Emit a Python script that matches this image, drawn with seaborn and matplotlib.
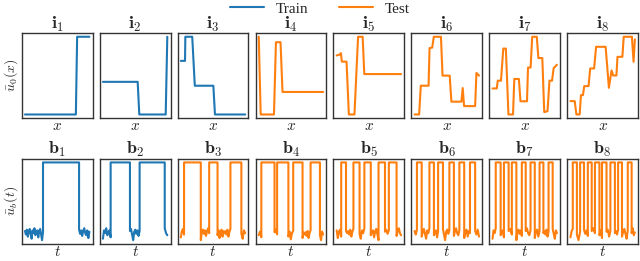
import numpy as np
import pandas as pd
import matplotlib
matplotlib.use("Agg")
import matplotlib.pyplot as plt
import seaborn as sns
from matplotlib.lines import Line2D

BLUE = "#1f77b4"
ORANGE = "#ff7f0e"

# ---- top row: initial conditions (piecewise vertices) ----
i1_x = [0.0, 0.79, 0.81, 1.0]
i1_y = [0.0, 0.0, 1.0, 1.0]
i2_x = [0.0, 0.54, 0.565, 0.975, 1.0]
i2_y = [0.42, 0.42, 0.0, 0.0, 1.0]
i3_x = [0.0, 0.065, 0.07, 0.177, 0.217, 0.505, 0.53, 1.0]
i3_y = [0.69, 0.69, 1.0, 1.0, 0.37, 0.37, 0.0, 0.0]
i4_x = [0.0, 0.03, 0.236, 0.267, 0.338, 0.369, 1.0]
i4_y = [1.0, 0.0, 0.0, 0.93, 0.93, 0.29, 0.29]
i5_x = [0.0, 0.05, 0.066, 0.08, 0.153, 0.189, 0.276, 0.332, 0.403, 0.429, 1.0]
i5_y = [0.76, 0.77, 0.79, 0.68, 0.68, 0.0, 0.0, 1.0, 1.0, 0.52, 0.52]
i6_x = [0.0, 0.07, 0.096, 0.217, 0.232, 0.273, 0.298, 0.409, 0.434, 0.545,
        0.571, 0.727, 0.747, 0.768, 0.94, 0.96, 1.0]
i6_y = [0.0, 0.0, 0.37, 0.37, 0.855, 0.86, 1.0, 1.0, 0.5, 0.5,
        0.165, 0.165, 0.34, 0.108, 0.108, 0.535, 0.5]
i7_x = [0.0, 0.066, 0.081, 0.131, 0.167, 0.207, 0.247, 0.318, 0.338, 0.409,
        0.434, 0.535, 0.551, 0.591, 0.616, 0.687, 0.712, 0.773, 0.803, 0.854,
        0.884, 0.924, 0.949, 1.0]
i7_y = [0.335, 0.335, 0.435, 0.435, 0.848, 0.848, 0.0, 0.0, 0.457, 0.457,
        0.17, 0.17, 0.604, 0.604, 1.0, 1.0, 0.726, 0.726, 0.03, 0.043,
        0.435, 0.435, 0.596, 0.64]
i8_x = [0.0, 0.066, 0.092, 0.143, 0.163, 0.194, 0.214, 0.281, 0.306, 0.367,
        0.398, 0.546, 0.597, 0.638, 0.663, 0.714, 0.730, 0.806, 0.827, 0.954,
        0.980, 1.0]
i8_y = [0.172, 0.172, 0.0, 0.0, 0.249, 0.249, 0.365, 0.365, 0.592, 0.592,
        0.871, 0.871, 0.343, 0.567, 0.502, 0.502, 0.742, 0.742, 1.0, 1.0,
        0.678, 0.966]

top_x = [i1_x, i2_x, i3_x, i4_x, i5_x, i6_x, i7_x, i8_x]
top_y = [i1_y, i2_y, i3_y, i4_y, i5_y, i6_y, i7_y, i8_y]

# ---- bottom row: boundary pulses (rise / fall times) ----
b_rises = [
    [0.28],
    [0.12, 0.57],
    [0.05, 0.44, 0.77],
    [0.04, 0.285, 0.535, 0.805],
    [0.07, 0.26, 0.43, 0.65, 0.81],
    [0.036, 0.23, 0.365, 0.54, 0.695, 0.86],
    [0.05, 0.177, 0.30, 0.455, 0.59, 0.73, 0.87],
    [0.036, 0.15, 0.27, 0.38, 0.49, 0.62, 0.74, 0.89],
]
b_falls = [
    [0.84],
    [0.42, 0.96],
    [0.31, 0.57, 0.94],
    [0.245, 0.46, 0.68, 0.95],
    [0.145, 0.355, 0.53, 0.75, 0.93],
    [0.11, 0.30, 0.44, 0.61, 0.77, 0.94],
    [0.126, 0.25, 0.37, 0.515, 0.656, 0.79, 0.934],
    [0.10, 0.21, 0.33, 0.45, 0.56, 0.69, 0.80, 0.95],
]
noise = [0.02, -0.03, 0.04, -0.06, 0.01, 0.05, -0.02, -0.09, 0.03, -0.01,
         0.06, -0.04, 0.00, 0.03, -0.07, 0.02, 0.05, -0.03, -0.11, 0.01,
         0.04, -0.02, 0.03, -0.05, 0.02, 0.06, -0.01, -0.04, 0.03, -0.08,
         0.01, 0.04, -0.06, 0.02, -0.01]

train_top = 3
train_bot = 2
top_titles = [r"$\mathbf{i}_{%d}$" % (k + 1) for k in range(8)]
bot_titles = [r"$\mathbf{b}_{%d}$" % (k + 1) for k in range(8)]
row_ylabels = [r"$\bar{u}_0(x)$", r"$\bar{u}_b(t)$"]


def pulse_path(rises, falls, offset):
    xs, ys = [], []
    k = offset
    starts = [0.0] + falls
    ends = rises + [1.0]
    for j, (a, b) in enumerate(zip(starts, ends)):
        n = max(2, int(round((b - a) * 70)))
        for t in np.linspace(a, b, n):
            xs.append(t)
            ys.append(noise[k % len(noise)])
            k += 1
        if j < len(rises):
            xs += [b, falls[j]]
            ys += [1.0, 1.0]
    return xs, ys


sns.set_style("white")
plt.rcParams["mathtext.fontset"] = "cm"
plt.rcParams["font.family"] = ["Liberation Serif", "DejaVu Serif"]

fig, axes = plt.subplots(2, 8, figsize=(6.4, 2.61), dpi=100)
fig.subplots_adjust(left=0.034, right=0.997, top=0.874, bottom=0.065,
                    wspace=0.1, hspace=0.47)

for c in range(8):
    ax = axes[0, c]
    col = BLUE if c < train_top else ORANGE
    df = pd.DataFrame({"x": top_x[c], "y": top_y[c]})
    sns.lineplot(data=df, x="x", y="y", sort=False, estimator=None,
                 color=col, linewidth=1.5, ax=ax)
    ax.set_title(top_titles[c], fontsize=13, pad=3)
    ax.set_xlabel(r"$x$", fontsize=11, labelpad=1)
    ax.set_ylabel("")

    ax = axes[1, c]
    col = BLUE if c < train_bot else ORANGE
    bx, by = pulse_path(b_rises[c], b_falls[c], c * 7)
    df = pd.DataFrame({"t": bx, "u": by})
    sns.lineplot(data=df, x="t", y="u", sort=False, estimator=None,
                 color=col, linewidth=1.5, ax=ax)
    ax.set_title(bot_titles[c], fontsize=13, pad=3)
    ax.set_xlabel(r"$t$", fontsize=11, labelpad=1)
    ax.set_ylabel("")

for r in range(2):
    pos = axes[r, 0].get_position()
    fig.text(2.5 / 640, (pos.y0 + pos.y1) / 2, row_ylabels[r], rotation=90,
             ha="left", va="center", fontsize=10)

for ax in axes.flat:
    ax.set_xticks([])
    ax.set_yticks([])
    for s in ax.spines.values():
        s.set_color("#333333")
        s.set_linewidth(1.0)

handles = [Line2D([], [], color=BLUE, lw=1.5), Line2D([], [], color=ORANGE, lw=1.5)]
fig.legend(handles, ["Train", "Test"], loc="upper center",
           bbox_to_anchor=(0.5, 1.045), ncol=2, frameon=False, fontsize=11,
           handlelength=2.2, columnspacing=2.0)

fig.savefig("out.png", dpi=100)
